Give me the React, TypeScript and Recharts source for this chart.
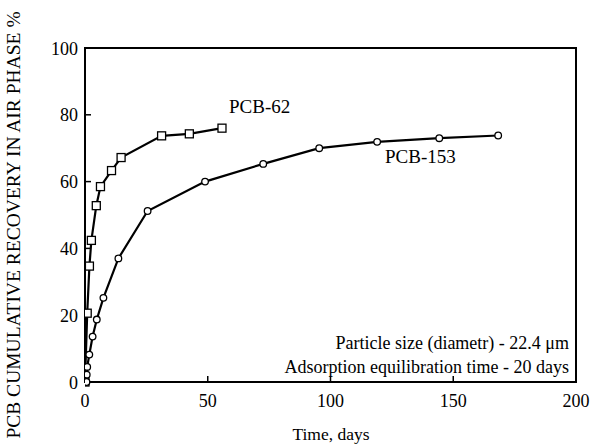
import { LineChart, Line, XAxis, YAxis, ReferenceArea } from 'recharts';

const pcb62Days = [0, 0.9, 1.8, 2.6, 4.6, 6.3, 10.8, 14.7, 31.2, 42.5, 55.8];
const pcb62Values = [0, 20.6, 34.7, 42.4, 52.8, 58.5, 63.3, 67.2, 73.7, 74.3, 76.0];

const pcb153Days = [0.6, 0.7, 0.9, 1.75, 3.1, 4.8, 7.5, 13.6, 25.5, 48.9, 72.6, 95.4, 119, 144.3, 168.3];
const pcb153Values = [0, 2.2, 4.5, 8.2, 13.6, 18.7, 25.2, 37.0, 51.2, 60.0, 65.3, 70.0, 71.9, 73.0, 73.8];

const xTicks = [0, 50, 100, 150, 200];
const yTicks = [0, 20, 40, 60, 80, 100];

const FONT = 'Liberation Serif';
const BASE = 17.5;

const pcb62 = pcb62Days.map((d, i) => ({ day: d, value: pcb62Values[i] }));
const pcb153 = pcb153Days.map((d, i) => ({ day: d, value: pcb153Values[i] }));

const SquareDot = (props: any) => {
  const { cx, cy } = props;
  if (cx == null || cy == null) return null;
  return <rect x={cx - 4} y={cy - 4} width={8} height={8} fill="#fff" stroke="#000" strokeWidth={1.3} />;
};

const CircleDot = (props: any) => {
  const { cx, cy } = props;
  if (cx == null || cy == null) return null;
  return <circle cx={cx} cy={cy} r={3.3} fill="#fff" stroke="#000" strokeWidth={1.3} />;
};

const txt = { fontFamily: FONT, fontSize: BASE, fill: '#000' };

// text drawn at BASE size, then scaled to the wanted size
const Txt = ({ x, y, size, rotate = 0, anchor = 'start', children }: any) => (
  <text
    x={0}
    y={0}
    textAnchor={anchor}
    transform={`translate(${x} ${y}) rotate(${rotate}) scale(${size / BASE})`}
    style={txt}
  >
    {children}
  </text>
);

const XTick = (props: any) => {
  const { x, y, payload } = props;
  return (
    <Txt x={x} y={y + 13} size={18} anchor="middle">
      {payload.value}
    </Txt>
  );
};

const YTick = (props: any) => {
  const { x, y, payload } = props;
  return (
    <Txt x={x} y={y + 6.5} size={18} anchor="end">
      {payload.value}
    </Txt>
  );
};

export default function App() {
  return (
    <div style={{ position: 'absolute', left: 0, top: 0, width: 605, height: 446, background: '#fff' }}>
      <LineChart width={605} height={446} margin={{ top: 48, right: 29, left: 0, bottom: 0 }}>
        <XAxis
          type="number"
          dataKey="day"
          domain={[0, 200]}
          ticks={xTicks}
          allowDataOverflow
          height={64}
          tickSize={-6}
          tickMargin={18}
          tick={<XTick />}
          axisLine={{ stroke: '#000', strokeWidth: 2 }}
          tickLine={{ stroke: '#000', strokeWidth: 1.5 }}
        />
        <YAxis
          type="number"
          domain={[0, 100]}
          ticks={yTicks}
          width={85}
          tickSize={-6}
          tickMargin={13}
          tick={<YTick />}
          axisLine={{ stroke: '#000', strokeWidth: 2 }}
          tickLine={{ stroke: '#000', strokeWidth: 1.5 }}
        />
        <ReferenceArea x1={0} x2={200} y1={0} y2={100} fill="none" stroke="#000" strokeWidth={2} fillOpacity={0} />
        <Line
          data={pcb62}
          dataKey="value"
          type="linear"
          stroke="#000"
          strokeWidth={2.2}
          dot={<SquareDot />}
          isAnimationActive={false}
        />
        <Line
          data={pcb153}
          dataKey="value"
          type="linear"
          stroke="#000"
          strokeWidth={2.2}
          dot={<CircleDot />}
          isAnimationActive={false}
        />
      </LineChart>
      <svg width={605} height={446} style={{ position: 'absolute', left: 0, top: 0, pointerEvents: 'none' }}>
        <Txt x={229} y={113} size={19}>PCB-62</Txt>
        <Txt x={385} y={163} size={19}>PCB-153</Txt>
        <Txt x={569} y={349} size={18} anchor="end">Particle size (diametr) - 22.4 μm</Txt>
        <Txt x={569} y={373} size={18} anchor="end">Adsorption equilibration time - 20 days</Txt>
        <Txt x={331} y={440} size={17.5} anchor="middle">Time, days</Txt>
        <Txt x={20} y={225} size={19.5} rotate={-90} anchor="middle">
          PCB CUMULATIVE RECOVERY IN AIR PHASE %
        </Txt>
      </svg>
    </div>
  );
}
